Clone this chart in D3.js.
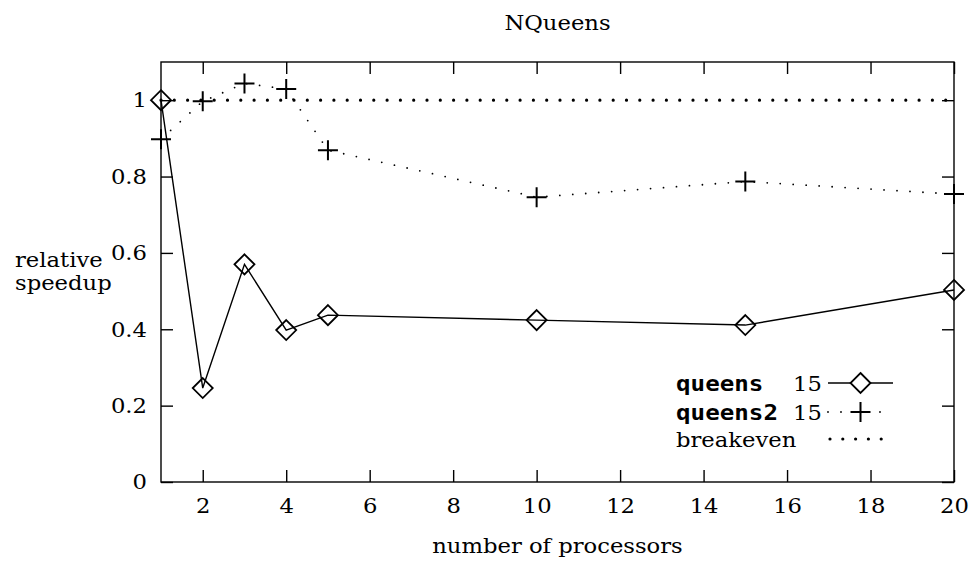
<!DOCTYPE html>
<html>
<head>
<meta charset="utf-8">
<script src="https://cdn.jsdelivr.net/npm/d3@7"></script>
<style>
  html, body { margin: 0; padding: 0; background: #fff; }
  svg { display: block; }
  .t-serif { font-family: 'DejaVu Serif', serif; }
  .t-mono { font-family: 'DejaVu Sans Mono', monospace; font-weight: bold; }
</style>
</head>
<body>
<svg id="chart" width="971" height="561"></svg>
<script>
// Processor counts measured and the speedups relative to the sequential run
const processors = [1, 2, 3, 4, 5, 10, 15, 20];
const queensSpeedup = [1.0, 0.246, 0.570, 0.398, 0.437, 0.424, 0.411, 0.503];
const queens2Speedup = [0.898, 0.997, 1.044, 1.029, 0.869, 0.746, 0.787, 0.754];
const breakevenProcessors = [1, 20];
const breakevenSpeedup = [1, 1];

const xTickValues = [2, 4, 6, 8, 10, 12, 14, 16, 18, 20];
const xTickLabels = ["2", "4", "6", "8", "10", "12", "14", "16", "18", "20"];
const yTickValues = [0, 0.2, 0.4, 0.6, 0.8, 1];
const yTickLabels = ["0", "0.2", "0.4", "0.6", "0.8", "1"];

const seriesNames = ["queens", "queens2", "breakeven"];
const seriesSizes = ["15", "15", ""];

const W = 971, H = 561;
const margin = { left: 161, right: 17, top: 62, bottom: 79 };
const FS = 21;          // serif text size
const FS_MONO = 22;     // legend series names
const STRETCH = 1.08;   // horizontal widening of the serif lettering
const STRETCH_MONO = 1.1;

const svg = d3.select("#chart");

const x = d3.scaleLinear().domain([1, 20]).range([margin.left, W - margin.right]);
const y = d3.scaleLinear().domain([0, 1.1]).range([H - margin.bottom, margin.top]);

function stretch(sel, k) {
  sel.each(function () {
    const L = this.getComputedTextLength();
    d3.select(this).attr("textLength", L * k).attr("lengthAdjust", "spacingAndGlyphs");
  });
}

// Frame
svg.append("rect")
  .attr("x", x(1)).attr("y", y(1.1))
  .attr("width", x(20) - x(1)).attr("height", y(0) - y(1.1))
  .attr("fill", "none").attr("stroke", "#000").attr("stroke-width", 1.4);

// Axes with inward ticks on all four sides
function styleAxis(g) {
  g.attr("font-family", null).attr("font-size", null);
  g.select(".domain").remove();
  g.selectAll(".tick line").attr("stroke", "#000").attr("stroke-width", 1.4);
  g.selectAll(".tick text").attr("class", "t-serif").attr("fill", "#000")
    .style("font-size", FS + "px");
}

const gx = svg.append("g")
  .attr("transform", `translate(0,${y(0)})`)
  .call(d3.axisBottom(x).tickValues(xTickValues)
    .tickFormat((d, i) => xTickLabels[i]).tickSize(-12).tickPadding(16))
  .call(styleAxis);

svg.append("g")
  .attr("transform", `translate(0,${y(1.1)})`)
  .call(d3.axisTop(x).tickValues(xTickValues).tickFormat("").tickSize(-12))
  .call(styleAxis);

const gy = svg.append("g")
  .attr("transform", `translate(${x(1)},0)`)
  .call(d3.axisLeft(y).tickValues(yTickValues)
    .tickFormat((d, i) => yTickLabels[i]).tickSize(-12).tickPadding(14))
  .call(styleAxis);

svg.append("g")
  .attr("transform", `translate(${x(20)},0)`)
  .call(d3.axisRight(y).tickValues(yTickValues).tickFormat("").tickSize(-12))
  .call(styleAxis);

stretch(gx.selectAll(".tick text"), STRETCH);
stretch(gy.selectAll(".tick text"), STRETCH);

// Titles
function serifText(px, py, str, anchor) {
  const t = svg.append("text")
    .attr("x", px).attr("y", py)
    .attr("text-anchor", anchor || "start")
    .attr("class", "t-serif").attr("fill", "#000")
    .style("font-size", FS + "px")
    .text(str);
  stretch(t, STRETCH);
  return t;
}
serifText((x(1) + x(20)) / 2, 30, "NQueens", "middle");
serifText((x(1) + x(20)) / 2, 553, "number of processors", "middle");
serifText(15, 267, "relative");
serifText(15, 290, "speedup");

// Series
const line = d3.line().x(d => x(d[0])).y(d => y(d[1]));
const queensPts = processors.map((p, i) => [p, queensSpeedup[i]]);
const queens2Pts = processors.map((p, i) => [p, queens2Speedup[i]]);
const breakevenPts = breakevenProcessors.map((p, i) => [p, breakevenSpeedup[i]]);

const diamond = (cx, cy, r) => `M${cx},${cy - r}L${cx + r},${cy}L${cx},${cy + r}L${cx - r},${cy}Z`;
const plus = (cx, cy, r) => `M${cx - r},${cy}H${cx + r}M${cx},${cy - r}V${cy + r}`;

const dottedFine = { width: 1.8, dash: "0 13" };
const dottedBold = { width: 3.2, dash: "0 13.3" };

svg.append("path").datum(breakevenPts)
  .attr("d", line).attr("fill", "none").attr("stroke", "#000")
  .attr("stroke-width", dottedBold.width).attr("stroke-linecap", "round")
  .attr("stroke-dasharray", dottedBold.dash);

svg.append("path").datum(queens2Pts)
  .attr("d", line).attr("fill", "none").attr("stroke", "#000")
  .attr("stroke-width", dottedFine.width).attr("stroke-linecap", "round")
  .attr("stroke-dasharray", dottedFine.dash);

svg.append("g").selectAll("path").data(queens2Pts).join("path")
  .attr("d", d => plus(x(d[0]), y(d[1]), 10))
  .attr("fill", "none").attr("stroke", "#000").attr("stroke-width", 2);

svg.append("path").datum(queensPts)
  .attr("d", line).attr("fill", "none").attr("stroke", "#000").attr("stroke-width", 1.4);

svg.append("g").selectAll("path").data(queensPts).join("path")
  .attr("d", d => diamond(x(d[0]), y(d[1]), 10))
  .attr("fill", "none").attr("stroke", "#000").attr("stroke-width", 1.8);

// Legend
const legendRows = [383, 412, 439];
const legendX = 676, sizeX = 793, sampleX0 = 828, sampleX1 = 893;
const leg = svg.append("g");
seriesNames.forEach((name, i) => {
  const cy = legendRows[i];
  const mono = i < 2;
  const t = leg.append("text")
    .attr("x", legendX).attr("y", cy + 8)
    .attr("class", mono ? "t-mono" : "t-serif")
    .attr("fill", "#000").style("font-size", (mono ? FS_MONO : FS) + "px").text(name);
  stretch(t, mono ? STRETCH_MONO : STRETCH);
  if (seriesSizes[i]) {
    const s = leg.append("text")
      .attr("x", sizeX).attr("y", cy + 8)
      .attr("class", "t-serif").attr("fill", "#000").style("font-size", FS + "px")
      .text(seriesSizes[i]);
    stretch(s, STRETCH);
  }
  const mid = (sampleX0 + sampleX1) / 2;
  const seg = leg.append("line")
    .attr("x1", sampleX0).attr("x2", sampleX1).attr("y1", cy).attr("y2", cy)
    .attr("stroke", "#000");
  if (i === 0) {
    seg.attr("stroke-width", 1.4);
    leg.append("path").attr("d", diamond(mid, cy, 10))
      .attr("fill", "#fff").attr("stroke", "#000").attr("stroke-width", 1.8);
  } else if (i === 1) {
    seg.attr("stroke-width", dottedFine.width).attr("stroke-linecap", "round")
      .attr("stroke-dasharray", dottedFine.dash);
    leg.append("path").attr("d", plus(mid, cy, 10))
      .attr("fill", "none").attr("stroke", "#000").attr("stroke-width", 2);
  } else {
    seg.attr("x1", sampleX0 + 2).attr("stroke-width", dottedBold.width).attr("stroke-linecap", "round")
      .attr("stroke-dasharray", "0 12.8");
  }
});
</script>
</body>
</html>
